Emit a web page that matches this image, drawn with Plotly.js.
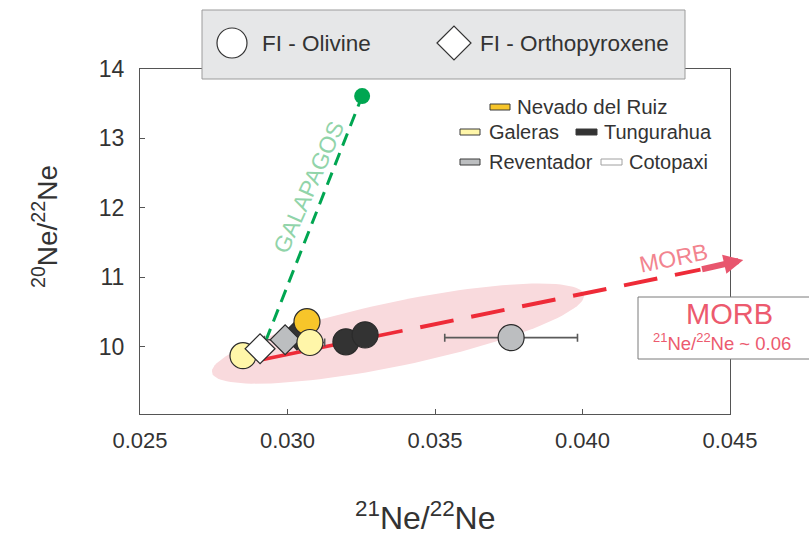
<!DOCTYPE html>
<html>
<head>
<meta charset="utf-8">
<script src="https://cdn.plot.ly/plotly-3.0.1.min.js"></script>
<style>
  html, body { margin: 0; padding: 0; background: #ffffff; }
  #chart { width: 809px; height: 536px; }
</style>
</head>
<body>
<div id="chart"></div>
<script>
// Neon isotope ratios of fluid inclusions (olivine and orthopyroxene)
// from Northern Andean volcanoes, with air–MORB and air–Galapagos trends.

// Samples, listed in drawing order (later entries sit on top)
const sampleVolcano = ['Galeras', 'Cotopaxi', 'Tungurahua', 'Reventador', 'Nevado del Ruiz',
                       'Galeras', 'Tungurahua', 'Tungurahua', 'Reventador'];
const sampleMineral = ['Olivine', 'Orthopyroxene', 'Orthopyroxene', 'Orthopyroxene', 'Olivine',
                       'Olivine', 'Olivine', 'Olivine', 'Olivine'];
const sampleNe21 = [0.02849, 0.02907, 0.03032, 0.02992, 0.03066, 0.03076, 0.03198, 0.03263, 0.03758];
const sampleNe20 = [9.87, 9.97, 10.17, 10.10, 10.36, 10.06, 10.07, 10.17, 10.13];
const sampleNe21Err = [0, 0, 0, 0.0007, 0, 0.0005, 0, 0, 0.00225];

// Volcano legend and colours
const volcanoNames = ['Nevado del Ruiz', 'Galeras', 'Tungurahua', 'Reventador', 'Cotopaxi'];
const volcanoFill = ['#f7c52a', '#fff6a9', '#333333', '#bcbec0', '#ffffff'];

// Galapagos end-member and the air point
const airNe21 = [0.0290];
const airNe20 = [9.80];
const galapagosNe21 = [0.03253];
const galapagosNe20 = [13.61];

// Air–MORB trend: solid over the data, dashed beyond, then the arrow
const morbSolidNe21 = [0.0290, 0.0339];
const morbSolidNe20 = [9.80, 10.23];
const morbDashNe21 = [0.0345, 0.0440];
const morbDashNe20 = [10.28, 11.11];
const morbArrowTail = [0.0440, 11.11];
const morbArrowHead = [0.04545, 11.25];

// Shaded MORB-like field (ellipse: centre and two conjugate semi-axes)
const fieldCentre = [0.033746, 10.188];
const fieldMajor = [0.006305, 0.563];
const fieldMinor = [-0.000223, 0.452];

// Axis ticks
const xTickVals = [0.025, 0.030, 0.035, 0.040, 0.045];
const xTickText = ['0.025', '0.030', '0.035', '0.040', '0.045'];
const yTickVals = [10, 11, 12, 13, 14];
const yTickText = ['10', '11', '12', '13', '14'];

const FONT = 'Arial, "Liberation Sans", Helvetica, sans-serif';
const TEXT = '#333333';

// ellipse outline
const fx = [], fy = [];
for (let i = 0; i <= 120; i++) {
  const t = 2 * Math.PI * i / 120;
  fx.push(fieldCentre[0] + fieldMajor[0] * Math.cos(t) + fieldMinor[0] * Math.sin(t));
  fy.push(fieldCentre[1] + fieldMajor[1] * Math.cos(t) + fieldMinor[1] * Math.sin(t));
}

const colourOf = v => volcanoFill[volcanoNames.indexOf(v)];

const traces = [
  {
    x: fx, y: fy, type: 'scatter', mode: 'lines', fill: 'toself',
    fillcolor: '#f9dadd', line: { width: 0 }, hoverinfo: 'skip'
  },
  {
    x: [airNe21[0], galapagosNe21[0]], y: [airNe20[0], galapagosNe20[0]],
    type: 'scatter', mode: 'lines',
    line: { color: '#00a651', width: 3, dash: '13px,8px' }, hoverinfo: 'skip'
  },
  {
    x: galapagosNe21, y: galapagosNe20, type: 'scatter', mode: 'markers',
    marker: { size: 16, color: '#00a651', line: { width: 0 } }, hoverinfo: 'skip'
  },
  {
    x: morbSolidNe21, y: morbSolidNe20, type: 'scatter', mode: 'lines',
    line: { color: '#ee2b38', width: 3.5 }, hoverinfo: 'skip'
  },
  {
    x: morbDashNe21, y: morbDashNe20, type: 'scatter', mode: 'lines',
    line: { color: '#ee2b38', width: 4, dash: '34px,18px' }, hoverinfo: 'skip'
  },
  {
    x: sampleNe21, y: sampleNe20, type: 'scatter', mode: 'markers',
    error_x: { type: 'data', array: sampleNe21Err, visible: true, color: '#5a5a5a', thickness: 1.6, width: 4 },
    marker: {
      symbol: sampleMineral.map(m => m === 'Olivine' ? 'circle' : 'diamond'),
      size: sampleMineral.map(m => m === 'Olivine' ? 26 : 23),
      color: sampleVolcano.map(colourOf),
      line: { color: '#2b2b2b', width: 1.2 },
      opacity: 1
    },
    text: sampleVolcano, hoverinfo: 'text+x+y'
  }
];

// helpers for placing decorations around the frame
const px = v => (v - 140) / 590;
const py = v => (414 - v) / 345;

const shapes = [
  // mineral legend box
  { type: 'rect', xref: 'paper', yref: 'paper', x0: px(202), x1: px(685), y0: py(79), y1: py(10),
    fillcolor: '#e6e7e8', line: { color: '#9b9b9b', width: 1 }, layer: 'above' },
  { type: 'circle', xref: 'paper', yref: 'paper', x0: px(217), x1: px(247), y0: py(58), y1: py(28),
    fillcolor: '#ffffff', line: { color: '#333333', width: 1.2 }, layer: 'above' },
  { type: 'path', xref: 'paper', yref: 'paper', layer: 'above',
    path: `M ${px(437)} ${py(43)} L ${px(454)} ${py(26)} L ${px(471)} ${py(43)} L ${px(454)} ${py(60)} Z`,
    fillcolor: '#ffffff', line: { color: '#333333', width: 1.2 } },
  // MORB end-member box
  { type: 'rect', xref: 'paper', yref: 'paper', x0: px(638), x1: px(820), y0: py(359), y1: py(297),
    fillcolor: '#ffffff', line: { color: '#7a7a7a', width: 1 }, layer: 'above' }
];

// volcano legend swatches: [x0, x1, y]
const swatchPos = [[490, 510, 107], [460, 480, 132], [576, 597, 132], [460, 480, 162], [601, 622, 162]];
const labelPos = [[515, 107], [487, 132], [602, 132], [487, 162], [627, 162]];
const labelSize = [20.5, 20, 20, 20, 20];
volcanoNames.forEach((v, i) => {
  const s = swatchPos[i];
  shapes.push({
    type: 'rect', xref: 'paper', yref: 'paper', layer: 'above',
    x0: px(s[0]), x1: px(s[1]), y0: py(s[2] + 3), y1: py(s[2] - 3),
    fillcolor: volcanoFill[i], line: { color: i === 4 ? '#a0a0a0' : '#3a3a3a', width: 1 }
  });
});

const annotations = [
  { xref: 'paper', yref: 'paper', x: px(260), y: py(43), xanchor: 'left', yanchor: 'middle',
    text: 'FI - Olivine', showarrow: false, font: { family: FONT, size: 22.5, color: TEXT } },
  { xref: 'paper', yref: 'paper', x: px(478), y: py(43), xanchor: 'left', yanchor: 'middle',
    text: 'FI - Orthopyroxene', showarrow: false, font: { family: FONT, size: 22.5, color: TEXT } },
  // axis titles
  { xref: 'paper', yref: 'paper', x: px(425), y: py(516), xanchor: 'center', yanchor: 'middle',
    text: '<sup>21</sup>Ne/<sup>22</sup>Ne', showarrow: false, font: { family: FONT, size: 32, color: TEXT } },
  { xref: 'paper', yref: 'paper', x: px(45), y: py(227), xanchor: 'center', yanchor: 'middle', textangle: -90,
    text: '<sup>20</sup>Ne/<sup>22</sup>Ne', showarrow: false, font: { family: FONT, size: 28, color: TEXT } },
  // trend labels
  { xref: 'x', yref: 'y', x: 0.03072, y: 12.3, text: 'GALAPAGOS', showarrow: false, textangle: -66,
    font: { family: FONT, size: 23, color: '#91d4a9' } },
  { xref: 'x', yref: 'y', x: 0.0431, y: 11.28, text: 'MORB', showarrow: false, textangle: -11.5,
    font: { family: FONT, size: 23, color: '#f2848f' } },
  // MORB arrow
  { xref: 'x', yref: 'y', axref: 'x', ayref: 'y', x: morbArrowHead[0], y: morbArrowHead[1],
    ax: morbArrowTail[0], ay: morbArrowTail[1], text: '', showarrow: true,
    arrowhead: 2, arrowsize: 0.65, arrowwidth: 6, arrowcolor: '#e8566e', standoff: 0, startstandoff: 0 },
  // MORB end-member box text
  { xref: 'paper', yref: 'paper', x: px(729), y: py(314), xanchor: 'center', yanchor: 'middle',
    text: 'MORB', showarrow: false, font: { family: FONT, size: 29, color: '#ec5a6e' } },
  { xref: 'paper', yref: 'paper', x: px(722), y: py(342), xanchor: 'center', yanchor: 'middle',
    text: '<sup>21</sup>Ne/<sup>22</sup>Ne ~ 0.06', showarrow: false, font: { family: FONT, size: 18.5, color: '#ec5a6e' } }
];

volcanoNames.forEach((v, i) => {
  annotations.push({
    xref: 'paper', yref: 'paper', x: px(labelPos[i][0]), y: py(labelPos[i][1]),
    xanchor: 'left', yanchor: 'middle', text: v, showarrow: false,
    font: { family: FONT, size: labelSize[i], color: TEXT }
  });
});

const axisCommon = {
  showgrid: false, zeroline: false, showline: true, mirror: true,
  linecolor: '#555555', linewidth: 1, ticks: 'inside', ticklen: 5, tickcolor: '#555555', tickwidth: 1
};

const layout = {
  width: 809, height: 536,
  margin: { l: 140, r: 79, t: 69, b: 122, pad: 0 },
  paper_bgcolor: '#ffffff', plot_bgcolor: '#ffffff',
  showlegend: false,
  font: { family: FONT, color: TEXT },
  xaxis: Object.assign({}, axisCommon, {
    range: [0.025, 0.045], tickmode: 'array', tickvals: xTickVals, ticktext: xTickText,
    tickfont: { family: FONT, size: 22, color: TEXT }, ticklabelstandoff: 7
  }),
  yaxis: Object.assign({}, axisCommon, {
    range: [9.03, 14.0], tickmode: 'array', tickvals: yTickVals, ticktext: yTickText,
    tickfont: { family: FONT, size: 23, color: TEXT }, ticklabelstandoff: 10
  }),
  shapes: shapes,
  annotations: annotations
};

Plotly.newPlot('chart', traces, layout, { displayModeBar: false, staticPlot: true });
</script>
</body>
</html>
